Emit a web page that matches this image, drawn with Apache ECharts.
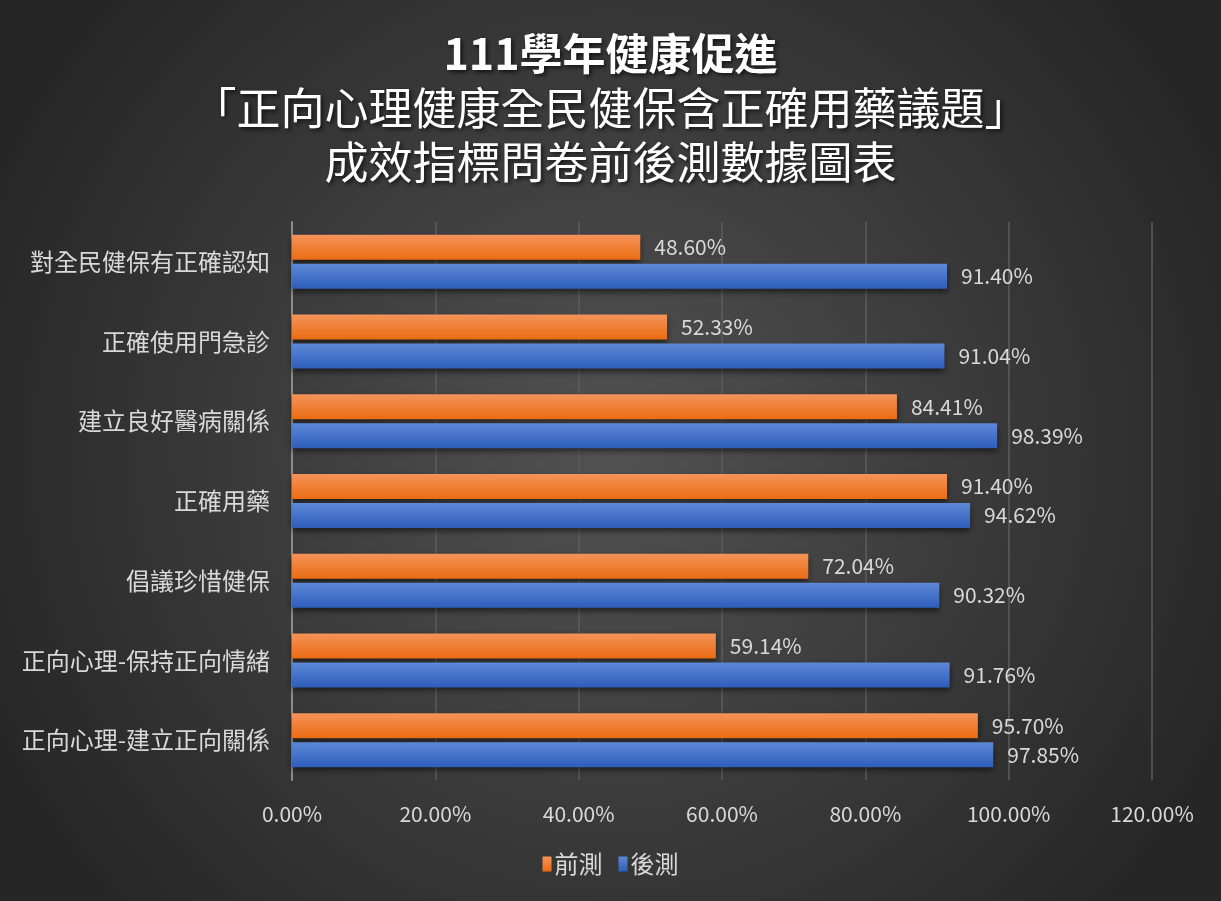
<!DOCTYPE html>
<html>
<head>
<meta charset="utf-8">
<script src="https://cdn.jsdelivr.net/npm/echarts@6/dist/echarts.min.js"></script>
<style>
  html, body { margin: 0; padding: 0; background: #1e1e1e; }
  #chart { width: 1221px; height: 901px; }
</style>
</head>
<body>
<div id="chart"></div>
<script>
// categories, top to bottom
const categories = [
  "對全民健保有正確認知",
  "正確使用門急診",
  "建立良好醫病關係",
  "正確用藥",
  "倡議珍惜健保",
  "正向心理-保持正向情緒",
  "正向心理-建立正向關係"
];
const preTest = [48.60, 52.33, 84.41, 91.40, 72.04, 59.14, 95.70];
const postTest = [91.40, 91.04, 98.39, 94.62, 90.32, 91.76, 97.85];
const seriesNames = ["前測", "後測"];

const cjk = '"Noto Sans CJK TC", "Noto Sans", sans-serif';
const labelColor = "#d9d9d9";

const chart = echarts.init(document.getElementById("chart"));

const barGrad = (top, bottom) => new echarts.graphic.LinearGradient(0, 0, 0, 1, [
  { offset: 0, color: top },
  { offset: 1, color: bottom }
]);

const makeSeries = (name, data, top, bottom) => ({
  name: name,
  type: "bar",
  data: data,
  barWidth: 25,
  barGap: "16%",
  itemStyle: {
    color: barGrad(top, bottom),
    shadowColor: "rgba(0,0,0,0.55)",
    shadowBlur: 6,
    shadowOffsetY: 3
  },
  label: {
    show: true,
    position: "right",
    distance: 14,
    color: labelColor,
    fontSize: 21,
    fontFamily: cjk,
    formatter: (p) => p.value.toFixed(2) + "%"
  }
});

const shadow = {
  textShadowColor: "rgba(0,0,0,0.7)",
  textShadowBlur: 4,
  textShadowOffsetX: 2,
  textShadowOffsetY: 2
};

const option = {
  backgroundColor: new echarts.graphic.RadialGradient(0.5, 0.5, 0.75, [
    { offset: 0, color: "#525252" },
    { offset: 1, color: "#262626" }
  ]),
  title: {
    text: "{b|111學年健康促進}\n{n|「正向心理健康全民健保含正確用藥議題」}\n{n|成效指標問卷前後測數據圖表}",
    left: "center",
    top: 22,
    textStyle: {
      rich: {
        b: Object.assign({
          fontSize: 43, fontWeight: "bold", color: "#ffffff", fontFamily: cjk,
          lineHeight: 54, align: "center"
        }, shadow),
        n: Object.assign({
          fontSize: 44, fontWeight: "normal", color: "#ffffff", fontFamily: cjk,
          lineHeight: 54, align: "center"
        }, shadow)
      }
    }
  },
  legend: {
    data: seriesNames,
    bottom: 20,
    left: "center",
    icon: "rect",
    itemWidth: 9,
    itemHeight: 15,
    itemGap: 16,
    textStyle: { color: labelColor, fontSize: 24, fontFamily: cjk, padding: [0, 0, 0, -2] }
  },
  grid: { left: 292, right: 69, top: 222, bottom: 121 },
  xAxis: {
    type: "value",
    min: 0,
    max: 120,
    interval: 20,
    axisLine: { show: false },
    axisTick: { show: false },
    splitLine: { lineStyle: { color: "#5c5c5c", width: 1.5 } },
    axisLabel: {
      color: labelColor,
      fontSize: 21,
      fontFamily: cjk,
      margin: 24,
      formatter: (v) => v.toFixed(2) + "%"
    }
  },
  yAxis: {
    type: "category",
    data: categories,
    inverse: true,
    axisLine: { show: true, lineStyle: { color: "#8c8c8c", width: 2 } },
    axisTick: { show: false },
    axisLabel: { color: labelColor, fontSize: 24, fontFamily: cjk, margin: 22 }
  },
  series: [
    makeSeries(seriesNames[0], preTest, "#f5935a", "#eb6c12"),
    makeSeries(seriesNames[1], postTest, "#5d89d6", "#2e5dbb")
  ]
};

chart.setOption(option);
</script>
</body>
</html>
